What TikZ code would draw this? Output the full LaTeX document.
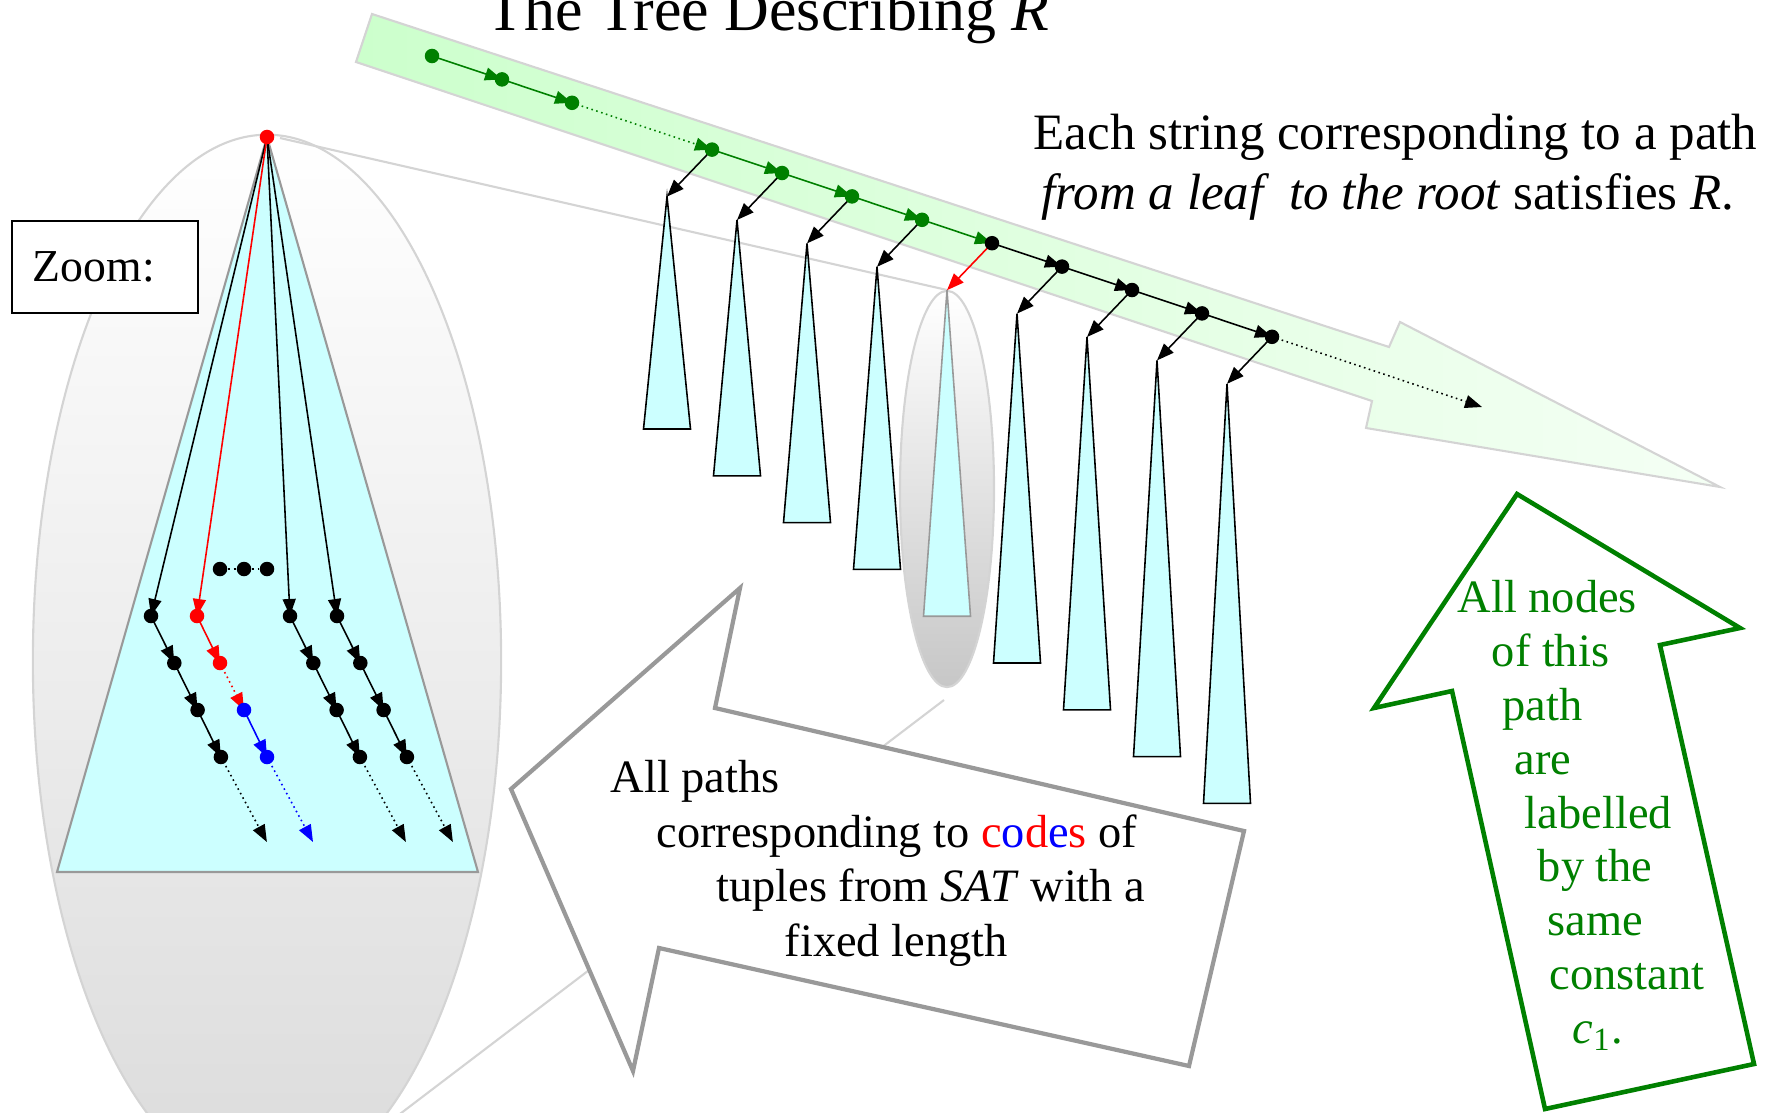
\documentclass[tikz,border=0pt]{standalone}
\usepackage{fontspec}
\setmainfont{Liberation Serif}
\usetikzlibrary{arrows.meta}
\definecolor{PaleCyan}{HTML}{CCFFFF}
\definecolor{PathGreen}{HTML}{008000}
\definecolor{BandGreen}{HTML}{CCFFCC}
\definecolor{SoftGray}{HTML}{D4D4D4}
\definecolor{FrameGray}{HTML}{999999}
\pgfdeclarelayer{back}
\pgfdeclarelayer{links}
\pgfsetlayers{back,links,main}

\begin{document}
\begin{tikzpicture}[
  x=0.01cm,
  y=-0.01cm,
  >={Triangle[length=0.17cm,width=0.13cm]},
  dot/.style={circle,fill,inner sep=0pt,minimum size=0.145cm},
  link/.style={->,line width=0.45pt},
  far link/.style={link,densely dotted},
  subtree/.style={fill=PaleCyan,line width=0.45pt},
  zoomline/.style={draw=SoftGray,line width=0.6pt},
  callout/.style={fill=white,line width=1.2pt,line join=miter},
  txt/.style={inner sep=0pt,align=left,anchor=north west}
]
  \useasboundingbox (0,0) rectangle (1767,1112);

  \begin{pgfonlayer}{back}
    % the zoomed subtree
    \draw[draw=SoftGray,line width=0.6pt,top color=white,bottom color=black!14]
      (267,661) ellipse [x radius=2.34cm,y radius=5.26cm];
    \draw[fill=PaleCyan,draw=FrameGray,line width=0.6pt]
      (267,137) -- (478,872) -- (57,872) -- cycle;
    % the path band
    \draw[draw=SoftGray,line width=0.6pt,left color=BandGreen,right color=BandGreen!20]
      (372,14) -- (1389,347) -- (1400,322) -- (1720,487) -- (1366,428)
      -- (1372,401) -- (356,62) -- cycle;
    \draw[zoomline] (280,138) -- (947,290);
    \draw[zoomline] (944,700) -- (392,1120);
    \draw[draw=SoftGray,line width=0.6pt,top color=white,bottom color=black!22]
      (947,489) ellipse [x radius=0.47cm,y radius=1.98cm];
    % subtrees hanging off the path
    \foreach \i/\col in {4/black,5/black,6/black,7/black,8/FrameGray,9/black,10/black,11/black,12/black} {
      \coordinate (t\i) at ({387+70*\i},{103+23.4*\i});
      \draw[subtree,draw=\col] (t\i) -- ++(-23.5,{138.8+23.4*\i}) -- ++(47,0) -- cycle;
    }
  \end{pgfonlayer}

  % nodes of the path
  \foreach \i in {0,1,2,4,5,6,7}
    \node[dot,PathGreen] (s\i) at ({432+70*\i},{56+23.4*\i}) {};
  \foreach \i in {8,...,12}
    \node[dot] (s\i) at ({432+70*\i},{56+23.4*\i}) {};
  \coordinate (send) at (1482,407);

  % nodes of the zoomed subtree
  \node[dot,red] (root) at (267,137) {};
  \foreach \n/\x in {a/151,c/290,d/337} {
    \foreach \k in {1,...,4}
      \node[dot] (\n\k) at ({\x+23.3*(\k-1)},{616+47*(\k-1)}) {};
    \coordinate (\n5) at ({\x+23.3*3+46},842);
  }
  \node[dot,red] (b1) at (197,616) {};
  \node[dot,red] (b2) at (220,663) {};
  \node[dot,blue] (b3) at (244,710) {};
  \node[dot,blue] (b4) at (267,757) {};
  \coordinate (b5) at (313,842);
  \node[dot] (m1) at (220,569) {};
  \node[dot] (m2) at (244,569) {};
  \node[dot] (m3) at (267,569) {};

  \begin{pgfonlayer}{links}
    \draw[link,PathGreen] (s0.center) -- (s1.center);
    \draw[link,PathGreen] (s1.center) -- (s2.center);
    \draw[far link,PathGreen] (s2.center) -- (s4.center);
    \foreach \a/\b in {4/5,5/6,6/7,7/8}
      \draw[link,PathGreen] (s\a.center) -- (s\b.center);
    \foreach \a/\b in {8/9,9/10,10/11,11/12}
      \draw[link] (s\a.center) -- (s\b.center);
    \draw[far link] (s12.center) -- (send);
    \foreach \i in {4,5,6,7,9,10,11,12}
      \draw[link] (s\i.center) -- (t\i);
    \draw[link,red] (s8.center) -- (t8);

    \foreach \n in {a,c,d} {
      \draw[link] (root.center) -- (\n1.center);
      \draw[link] (\n1.center) -- (\n2.center);
      \draw[link] (\n2.center) -- (\n3.center);
      \draw[link] (\n3.center) -- (\n4.center);
      \draw[far link] (\n4.center) -- (\n5);
    }
    \draw[link,red] (root.center) -- (b1.center);
    \draw[link,red] (b1.center) -- (b2.center);
    \draw[far link,red] (b2.center) -- (b3.center);
    \draw[link,blue] (b3.center) -- (b4.center);
    \draw[far link,blue] (b4.center) -- (b5);
    \draw[densely dotted,line width=0.6pt] (m1) -- (m2) -- (m3);
  \end{pgfonlayer}

  \node[draw,line width=0.5pt,fill=white,anchor=north west,minimum width=1.86cm,
    minimum height=0.92cm,text width=1.44cm,inner xsep=0.21cm,align=left,
    font=\fontsize{13}{15}\selectfont] (zoombox) at (11,220) {Zoom:};

  \node[font=\fontsize{17.6}{20}\selectfont,anchor=base] (title) at (768,31)
    {The Tree Describing \textit{R}};
  \node[txt,font=\fontsize{14.5}{17.1}\selectfont] (pathtext) at (1033,113)
    {Each string corresponding to a path\\
     \hspace*{0.08cm}\textit{from a leaf\ \ to the root} satisfies \textit{R}.};

  % callouts
  \draw[callout,draw=FrameGray] (511,789) -- (740,588) -- (715,708) -- (1244,831)
    -- (1189,1066) -- (659,948) -- (633,1071) -- cycle;
  \node[txt,font=\fontsize{13.2}{15.5}\selectfont] (codetext) at (610,760)
    {All paths\\
     \hspace*{13pt}corresponding to \textcolor{red}{c}\textcolor{blue}{o}\textcolor{red}{d}\textcolor{blue}{e}\textcolor{red}{s} of\\
     \hspace*{30pt}tuples from \textit{SAT} with a\\
     \hspace*{49.5pt}fixed length};

  \draw[callout,draw=PathGreen,line width=1.3pt] (1517,494) -- (1740,628) -- (1660,645)
    -- (1754,1064) -- (1545,1109) -- (1452,691) -- (1374,708) -- cycle;
  \node[txt,text=PathGreen,font=\fontsize{13.2}{15.3}\selectfont] (labeltext) at (1457,580)
    {All nodes\\
     \hspace*{9.7pt}of this\\
     \hspace*{12.8pt}path\\
     \hspace*{16.2pt}are\\
     \hspace*{19.1pt}labelled\\
     \hspace*{22.8pt}by the\\
     \hspace*{25.6pt}same\\
     \hspace*{26.2pt}constant\\
     \hspace*{32.7pt}\textit{c}\textsubscript{1}.};
\end{tikzpicture}
\end{document}
